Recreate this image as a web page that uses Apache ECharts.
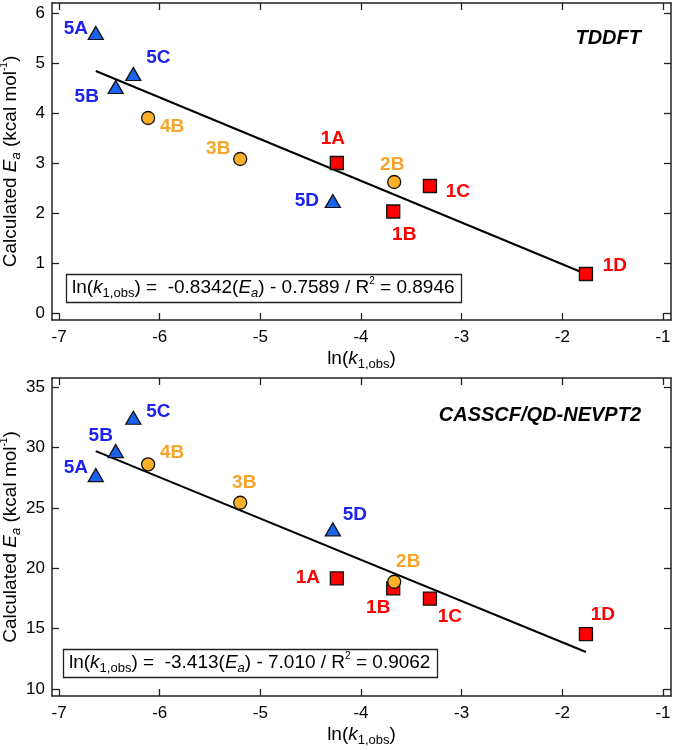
<!DOCTYPE html>
<html><head><meta charset="utf-8">
<script src="https://cdn.jsdelivr.net/npm/echarts@6/dist/echarts.min.js"></script>
<style>html,body{margin:0;padding:0;background:#fff}#c{width:674px;height:750px}</style>
</head><body><div id="c"></div>
<script>
// ---- data ----
const names1 = ['1A','1B','1C','1D'];
const lnk1 = [-4.24, -3.68, -3.315, -1.765];
const names2 = ['2B','3B','4B'];
const lnk2 = [-3.67, -5.20, -6.115];
const names5 = ['5A','5B','5C','5D'];
const lnk5 = [-6.635, -6.437, -6.262, -4.28];

const tddftEa1 = [3.0, 2.03, 2.54, 0.78];
const tddftEa2 = [2.62, 3.08, 3.9];
const tddftEa5 = [5.6, 4.52, 4.78, 2.24];

const nevptEa1 = [19.16, 18.33, 17.48, 14.55];
const nevptEa2 = [18.88, 25.42, 28.6];
const nevptEa5 = [27.71, 29.7, 32.46, 23.22];

const fitX = [-6.635, -1.765];
const tddftFitY = [4.84, 0.78];
const nevptFitY = [29.7, 13.06];

const xTicks = [-7, -6, -5, -4, -3, -2, -1];
const tddftTicks = [0, 1, 2, 3, 4, 5, 6];
const nevptTicks = [10, 15, 20, 25, 30, 35];

// ---- label placement (styling, px offsets) ----
const tddftLabelOffset = {
  '1A':[-4,-24],'1B':[11,23],'1C':[28,6],'1D':[29,-8],
  '2B':[-2,-17],'3B':[-22,-10],'4B':[24,9],
  '5A':[-20,-4],'5B':[-29,10],'5C':[25,-16],'5D':[-26,0]
};
const nevptLabelOffset = {
  '1A':[-29,-1],'1B':[-15,19],'1C':[20,18],'1D':[17,-19],
  '2B':[14,-20],'3B':[4,-20],'4B':[24,-12],
  '5A':[-20,-7],'5B':[-15,-15],'5C':[25,-6],'5D':[22,-15]
};

const FONT = 'Liberation Sans, Arial, sans-serif';
const RED = '#FF0000', ORANGE_FILL = '#FBB22A', ORANGE_TXT = '#F5A52A', BLUE_FILL = '#1A63EE', BLUE_TXT = '#1C22F0';
const AX = '#222';

const richBase = {
  n: {fontFamily: FONT, fontSize: 19, lineHeight: 24, fontWeight: 'normal', color: '#000'},
  i: {fontFamily: FONT, fontSize: 19, lineHeight: 24, fontWeight: 'normal', fontStyle: 'italic', color: '#000'},
  s: {fontFamily: FONT, fontSize: 13, lineHeight: 13, fontWeight: 'normal', verticalAlign: 'bottom', color: '#000'},
  si: {fontFamily: FONT, fontSize: 13, lineHeight: 13, fontWeight: 'normal', verticalAlign: 'bottom', fontStyle: 'italic', color: '#000'},
  p: {fontFamily: FONT, fontSize: 10, lineHeight: 12, fontWeight: 'normal', verticalAlign: 'top', color: '#000'}
};

function pts(xs, ys, names) {
  return xs.map((x, k) => ({name: names[k], value: [x, ys[k]]}));
}

function scatter(gi, xs, ys, names, symbol, size, fill, txt, offs) {
  return {
    type: 'scatter', xAxisIndex: gi * 2, yAxisIndex: gi * 2, z: 5,
    symbol: symbol, symbolSize: size,
    itemStyle: {color: fill, borderColor: '#111', borderWidth: 1.3, opacity: 1},
    data: pts(xs, ys, names).map(d => ({
      name: d.name, value: d.value,
      label: {offset: offs[d.name]}
    })),
    label: {
      show: true, position: 'inside', formatter: '{b}',
      fontFamily: FONT, fontWeight: 'bold', fontSize: 19, color: txt,
      align: 'center', verticalAlign: 'middle'
    },
    emphasis: {disabled: true}
  };
}

function fitLine(gi, ys) {
  return {
    type: 'line', xAxisIndex: gi * 2, yAxisIndex: gi * 2, z: 2,
    data: fitX.map((x, k) => [x, ys[k]]),
    symbol: 'none', lineStyle: {color: '#000', width: 2}, silent: true
  };
}

function xAxes(gi) {
  const common = {
    type: 'value', gridIndex: gi, min: -7.07, max: -0.92,
    axisLine: {show: true, onZero: false, lineStyle: {color: AX, width: 1.5}},
    axisTick: {show: true, inside: true, length: 7, customValues: xTicks, lineStyle: {color: AX, width: 1.3}},
    splitLine: {show: false}
  };
  return [
    Object.assign({}, common, {
      position: 'bottom',
      axisLabel: {show: true, customValues: xTicks, fontFamily: FONT, fontSize: 17, color: '#000', margin: 9},
      name: '{n|ln(}{i|k}{s|1,obs}{n|)}', nameLocation: 'middle', nameGap: 27, nameMoveOverlap: false,
      nameTextStyle: {rich: richBase}
    }),
    Object.assign({}, common, {position: 'top', axisLabel: {show: false}})
  ];
}

function yAxes(gi, min, max, ticks) {
  const common = {
    type: 'value', gridIndex: gi, min: min, max: max,
    axisLine: {show: true, onZero: false, lineStyle: {color: AX, width: 1.5}},
    axisTick: {show: true, inside: true, length: 7, customValues: ticks, lineStyle: {color: AX, width: 1.3}},
    splitLine: {show: false}
  };
  return [
    Object.assign({}, common, {
      position: 'left',
      axisLabel: {show: true, customValues: ticks, fontFamily: FONT, fontSize: 17, color: '#000', margin: 7},
      name: '{n|Calculated }{i|E}{si|a}{n| (kcal mol}{p|-1}{n|)}', nameLocation: 'middle', nameGap: 29, nameRotate: 90,
      nameMoveOverlap: false,
      nameTextStyle: {rich: richBase}
    }),
    Object.assign({}, common, {position: 'right', axisLabel: {show: false}})
  ];
}

const option = {
  animation: false,
  backgroundColor: '#fff',
  title: [
    {text: 'TDDFT', right: 28, top: 23, textStyle: {fontFamily: FONT, fontSize: 20, fontWeight: 'bold', fontStyle: 'italic', color: '#000'}},
    {text: 'CASSCF/QD-NEVPT2', right: 28, top: 400, textStyle: {fontFamily: FONT, fontSize: 20, fontWeight: 'bold', fontStyle: 'italic', color: '#000'}},
    {text: '{n|ln(}{i|k}{s|1,obs}{n|) =  -0.8342(}{i|E}{si|a}{n|) - 0.7589 / R}{p|2}{n| = 0.8946}',
     left: 66, top: 274, padding: [2, 7, 3, 6], borderColor: '#222', borderWidth: 1.3,
     textStyle: {fontWeight: 'normal', rich: richBase}},
    {text: '{n|ln(}{i|k}{s|1,obs}{n|) =  -3.413(}{i|E}{si|a}{n|) - 7.010 / R}{p|2}{n| = 0.9062}',
     left: 63, top: 649, padding: [2, 7, 3, 6], borderColor: '#222', borderWidth: 1.3,
     textStyle: {fontWeight: 'normal', rich: richBase}}
  ],
  grid: [
    {left: 52, top: 3, width: 619, height: 317, containLabel: false, outerBoundsMode: 'none'},
    {left: 52, top: 378, width: 619, height: 318, containLabel: false, outerBoundsMode: 'none'}
  ],
  xAxis: [].concat(xAxes(0), xAxes(1)),
  yAxis: [].concat(yAxes(0, -0.14, 6.2, tddftTicks), yAxes(1, 9.42, 35.75, nevptTicks)),
  series: [
    fitLine(0, tddftFitY),
    scatter(0, lnk1, tddftEa1, names1, 'rect', 13, RED, RED, tddftLabelOffset),
    scatter(0, lnk2, tddftEa2, names2, 'circle', 13, ORANGE_FILL, ORANGE_TXT, tddftLabelOffset),
    scatter(0, lnk5, tddftEa5, names5, 'triangle', [15, 13], BLUE_FILL, BLUE_TXT, tddftLabelOffset),
    fitLine(1, nevptFitY),
    scatter(1, lnk1, nevptEa1, names1, 'rect', 13, RED, RED, nevptLabelOffset),
    scatter(1, lnk2, nevptEa2, names2, 'circle', 13, ORANGE_FILL, ORANGE_TXT, nevptLabelOffset),
    scatter(1, lnk5, nevptEa5, names5, 'triangle', [15, 13], BLUE_FILL, BLUE_TXT, nevptLabelOffset)
  ]
};
const chart = echarts.init(document.getElementById('c'), null, {renderer: 'canvas'});
chart.setOption(option);
</script></body></html>
